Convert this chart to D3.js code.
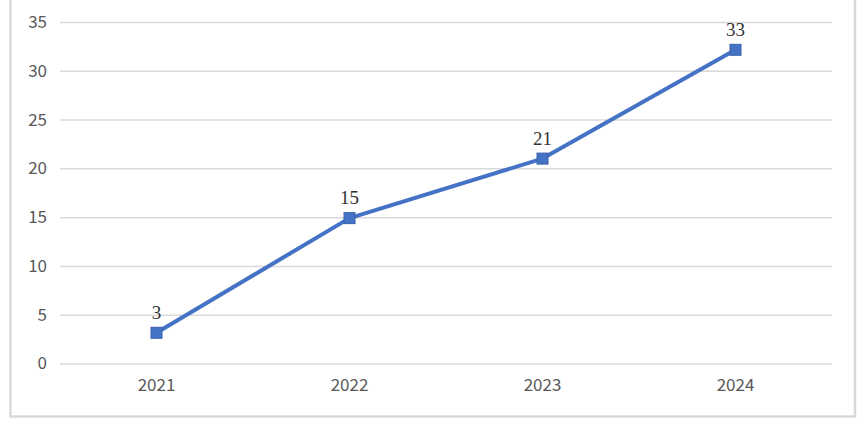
<!DOCTYPE html>
<html><head><meta charset="utf-8">
<script src="https://cdn.jsdelivr.net/npm/d3@7"></script>
<style>html,body{margin:0;padding:0;background:#fff;}svg{display:block;}</style>
</head><body>
<svg id="c" width="864" height="431"></svg>
<script>
const categories = ["2021", "2022", "2023", "2024"];
const values = [3.15, 14.9, 21, 32.15];
const dataLabels = ["3", "15", "21", "33"];
const yTicks = [0, 5, 10, 15, 20, 25, 30, 35];

const svg = d3.select("#c");
const plot = {left: 60, right: 832, top: 22, bottom: 363.5};

svg.append("rect").attr("x", 10.5).attr("y", -4).attr("width", 844.5).attr("height", 420.5)
  .attr("fill", "#fff").attr("stroke", "#d9d9d9").attr("stroke-width", 2.5);

const x = d3.scaleBand().domain(categories).range([plot.left, plot.right]);
const y = d3.scaleLinear().domain([0, 35]).range([plot.bottom, plot.top]);

const yAxis = d3.axisLeft(y).tickValues(yTicks).tickSize(-(plot.right - plot.left)).tickPadding(13);
const gy = svg.append("g").attr("transform", `translate(${plot.left},0)`).call(yAxis);
gy.select(".domain").remove();
gy.selectAll("line").attr("stroke", "#d9d9d9").attr("stroke-width", 1.5);
gy.selectAll("text").attr("fill", "#595959").attr("font-size", 17)
  .attr("font-family", "'Noto Sans CJK SC', 'Noto Sans', sans-serif");

const xAxis = d3.axisBottom(x).tickSize(0).tickPadding(15);
const gx = svg.append("g").attr("transform", `translate(0,${plot.bottom})`).call(xAxis);
gx.select(".domain").remove();
gx.selectAll("text").attr("fill", "#595959").attr("font-size", 17)
  .attr("font-family", "'Noto Sans CJK SC', 'Noto Sans', sans-serif");

const cx = d => x(d) + x.bandwidth() / 2;
const line = d3.line().x((d, i) => cx(categories[i])).y(d => y(d));
svg.append("path").datum(values).attr("d", line).attr("fill", "none")
  .attr("stroke", "#4472C4").attr("stroke-width", 4).attr("stroke-linejoin", "round");

svg.selectAll(".m").data(values).enter().append("rect")
  .attr("x", (d, i) => cx(categories[i]) - 5.5).attr("y", d => y(d) - 5.5)
  .attr("width", 11).attr("height", 11)
  .attr("fill", "#4472C4").attr("stroke", "#3a62ab").attr("stroke-width", 1);

svg.selectAll(".lbl").data(values).enter().append("text")
  .attr("x", (d, i) => cx(categories[i])).attr("y", d => y(d) - 14)
  .attr("text-anchor", "middle").attr("font-size", 19)
  .attr("font-family", "'Liberation Serif', 'DejaVu Serif', serif").attr("fill", "#333")
  .text((d, i) => dataLabels[i]);
</script>
</body></html>
